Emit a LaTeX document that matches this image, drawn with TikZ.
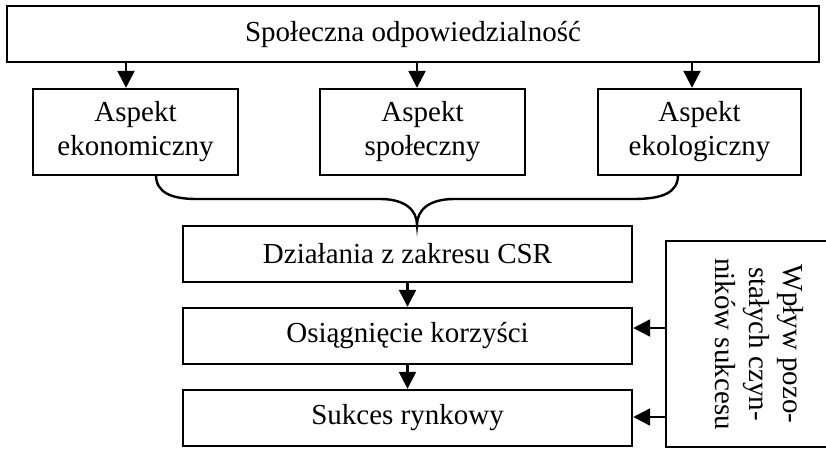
\documentclass[tikz,border=0pt]{standalone}
\usepackage{fontspec}
\setmainfont{Liberation Serif}
\usetikzlibrary{arrows.meta}
\begin{document}
\begin{tikzpicture}[x=1pt,y=-1pt,
  every node/.style={font=\fontsize{29}{34}\selectfont},
  box/.style={draw, line width=2.4pt, rectangle, inner sep=0pt, align=center},
  arr/.style={line width=2.4pt, -{Triangle[width=17pt,length=17pt]}},
  ln/.style={line width=2.4pt}]
\useasboundingbox (0,0) rectangle (826,448);
\node[box, minimum width=812pt, minimum height=56pt] (top) at (413,34) {Społeczna odpowiedzialność};
\node[box, minimum width=205pt, minimum height=86pt] (a1) at (135.5,132) {Aspekt\\ekonomiczny};
\node[box, minimum width=205pt, minimum height=86pt] (a2) at (422.5,132) {Aspekt\\społeczny};
\node[box, minimum width=203pt, minimum height=86pt] (a3) at (699.5,132) {Aspekt\\ekologiczny};
\node[box, minimum width=449pt, minimum height=56pt] (d) at (407.5,254) {Działania z zakresu CSR};
\node[box, minimum width=449pt, minimum height=56pt] (o) at (407.5,336) {Osiągnięcie korzyści};
\node[box, minimum width=449pt, minimum height=56pt] (s) at (407.5,418) {Sukces rynkowy};
\node[box, rotate=-90, minimum width=206pt, minimum height=186pt] (w) at (759,344) {Wpływ pozo-\\stałych czyn-\\ników sukcesu};
\coordinate (x1) at (126,0);
\coordinate (x2) at (417,0);
\coordinate (x3) at (692,0);
\coordinate (y1) at (0,328);
\coordinate (y2) at (0,417);
\draw[arr] (top.south -| x1) -- (a1.north -| x1);
\draw[arr] (top.south -| x2) -- (a2.north -| x2);
\draw[arr] (top.south -| x3) -- (a3.north -| x3);
\draw[arr] (d.south) -- (o.north);
\draw[arr] (o.south) -- (s.north);
\draw[arr] (w.south |- y1) -- (o.east |- y1);
\draw[arr] (w.south |- y2) -- (s.east |- y2);
\coordinate (bl) at (156,175);
\coordinate (bc) at (417,225);
\coordinate (br) at (678,175);
\draw[ln] (bl) .. controls (156,193) and (172,199) .. (197,199) -- (380,199)
  .. controls (405,199) and (417,210) .. (bc)
  .. controls (417,210) and (429,199) .. (454,199) -- (633,199)
  .. controls (662,199) and (678,193) .. (br);
\end{tikzpicture}
\end{document}
